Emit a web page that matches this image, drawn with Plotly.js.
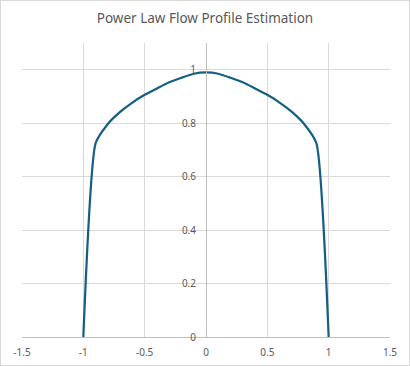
<!DOCTYPE html>
<html>
<head>
<meta charset="utf-8">
<script src="https://cdn.plot.ly/plotly-3.0.1.min.js"></script>
<style>
  html, body { margin: 0; padding: 0; background: #fff; }
  #frame { width: 408px; height: 364px; border: 1px solid #d9d9d9; position: relative; overflow: hidden; }
  #chart { position: absolute; left: -1px; top: -1px; width: 410px; height: 366px; }
</style>
</head>
<body>
<div id="frame"><div id="chart"></div></div>
<script>
// Radial position r/R and normalized velocity u/Umax
const radius   = [-1, -0.9, -0.8, -0.7, -0.6, -0.5, -0.4, -0.3, -0.2, -0.1, 0,
                  0.1, 0.2, 0.3, 0.4, 0.5, 0.6, 0.7, 0.8, 0.9, 1];
const velocity = [0, 0.725, 0.797, 0.842, 0.877, 0.906, 0.93, 0.953, 0.97, 0.985, 0.99,
                  0.985, 0.97, 0.953, 0.93, 0.906, 0.877, 0.842, 0.797, 0.725, 0];
const xTicks = [-1.5, -1, -0.5, 0, 0.5, 1, 1.5];
const yTicks = [0, 0.2, 0.4, 0.6, 0.8, 1];

const tickFont = { family: 'Noto Sans, sans-serif', size: 10, color: '#595959' };

Plotly.newPlot('chart', [{
  x: radius,
  y: velocity,
  type: 'scatter',
  mode: 'lines',
  line: { color: '#156082', width: 2.25, shape: 'spline', smoothing: 0.5 },
  hoverinfo: 'skip'
}], {
  width: 410,
  height: 366,
  margin: { l: 22, r: 20, t: 43, b: 29, pad: 0 },
  paper_bgcolor: '#ffffff',
  plot_bgcolor: '#ffffff',
  showlegend: false,
  title: {
    text: 'Power Law Flow Profile Estimation',
    font: { family: 'Noto Sans, sans-serif', size: 13.5, color: '#595959' },
    x: 0.5, xanchor: 'center', y: 0.95, yanchor: 'middle', yref: 'container'
  },
  xaxis: {
    range: [-1.5, 1.5],
    tickvals: xTicks,
    ticktext: xTicks.map(String),
    showgrid: true, gridcolor: '#d9d9d9', gridwidth: 1,
    zeroline: false,
    showline: true, linecolor: '#bfbfbf', linewidth: 1,
    ticks: '', ticklabelstandoff: 6,
    tickfont: tickFont,
    fixedrange: true
  },
  yaxis: {
    range: [0, 1.1],
    tickvals: yTicks,
    ticktext: yTicks.map(String),
    anchor: 'free', position: 0.5,
    showgrid: true, gridcolor: '#d9d9d9', gridwidth: 1,
    zeroline: false,
    showline: true, linecolor: '#bfbfbf', linewidth: 1,
    ticks: '', ticklabelstandoff: 8,
    tickfont: tickFont,
    fixedrange: true
  }
}, { displayModeBar: false, staticPlot: true });
</script>
</body>
</html>
